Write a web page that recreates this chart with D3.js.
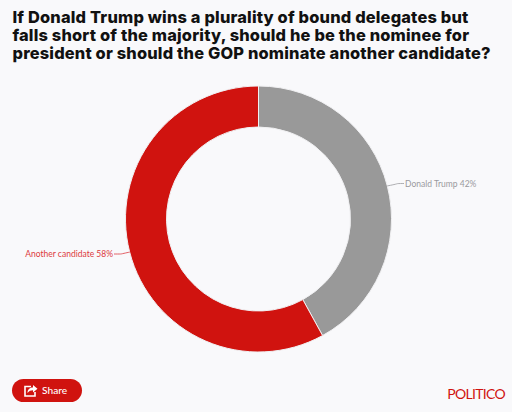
<!DOCTYPE html>
<html><head><meta charset="utf-8">
<script src="https://cdn.jsdelivr.net/npm/d3@7"></script>
<style>html,body{margin:0;padding:0;background:#f9f9fb;overflow:hidden}svg{display:block}</style>
</head><body><svg id="c" width="512" height="412"></svg>
<script>
const titleLines=["If Donald Trump wins a plurality of bound delegates but","falls short of the majority, should he be the nominee for","president or should the GOP nominate another candidate?"];
const categories=["Donald Trump","Another candidate"];
const values=[42,58];
const colors=["#999999","#d0130f"];
const labelColors=["#9a9a9e","#dc3a40"];
const svg=d3.select("#c");
svg.append("rect").attr("width",512).attr("height",412).attr("fill","#f9f9fb");
svg.selectAll("text.t").data(titleLines).join("text").attr("class","t")
 .attr("x",12.5).attr("y",(d,i)=>23+i*18).attr("font-family","Inter").attr("font-weight",800)
 .attr("font-size",16.4).attr("letter-spacing",0.18).attr("fill","#111").text(d=>d);
const cx=258.5,cy=219,R=133,r=92;
const g=svg.append("g").attr("transform",`translate(${cx},${cy})`);
const pie=d3.pie().sort(null).value(d=>d)(values);
const arc=d3.arc().innerRadius(r).outerRadius(R);
g.selectAll("path.s").data(pie).join("path").attr("class","s").attr("d",arc)
 .attr("fill",(d,i)=>colors[i]).attr("stroke","#f0f0f2").attr("stroke-width",1);
const layout=[{tx:405,ty:183.5,a:"start"},{tx:113,ty:254,a:"end"}];
pie.forEach((d,i)=>{
 const m=(d.startAngle+d.endAngle)/2,ax=Math.sin(m)*R,ay=-Math.cos(m)*R;
 const L=layout[i],ex=L.tx-cx+(i?1:-1)*1,ey=L.ty-cy;
 const kx=ex+(i?7:-7);
 g.append("path").attr("d",d3.line().curve(d3.curveBasis)([[ax,ay],[kx,ey+(i?0:0.5)],[kx,ey],[ex,ey]]))
  .attr("fill","none").attr("stroke",labelColors[i]).attr("stroke-width",0.8);
 svg.append("text").attr("x",L.tx).attr("y",L.ty+3.2).attr("text-anchor",L.a)
  .attr("font-family","Lato").attr("font-size",8.5).attr("fill",labelColors[i])
  .text(`${categories[i]} ${values[i]}%`);
});
const b=svg.append("g");
b.append("rect").attr("x",12).attr("y",379).attr("width",70).attr("height",23).attr("rx",11.5).attr("fill","#d0130f");
b.append("path").attr("d","M31 386.5h-6v9.5h10v-4").attr("fill","none").attr("stroke","#fff").attr("stroke-width",1.6);
b.append("path").attr("d","M27.5 392.5c.3-3.5 2.5-5 5.5-5v-2.5l4.5 3.8-4.5 3.8v-2.4c-2.2 0-4 .6-5.5 2.8z").attr("fill","#fff");
b.append("text").attr("x",42).attr("y",394).attr("font-family","Lato").attr("font-size",10.2).attr("font-weight",500).attr("fill","#fff").text("Share");
svg.append("text").attr("x",505).attr("y",399).attr("text-anchor","end").attr("font-family","Lato")
 .attr("font-size",14).attr("font-weight",400).attr("letter-spacing",-0.7).attr("fill","#d0130f").text("POLITICO");
</script></body></html>
